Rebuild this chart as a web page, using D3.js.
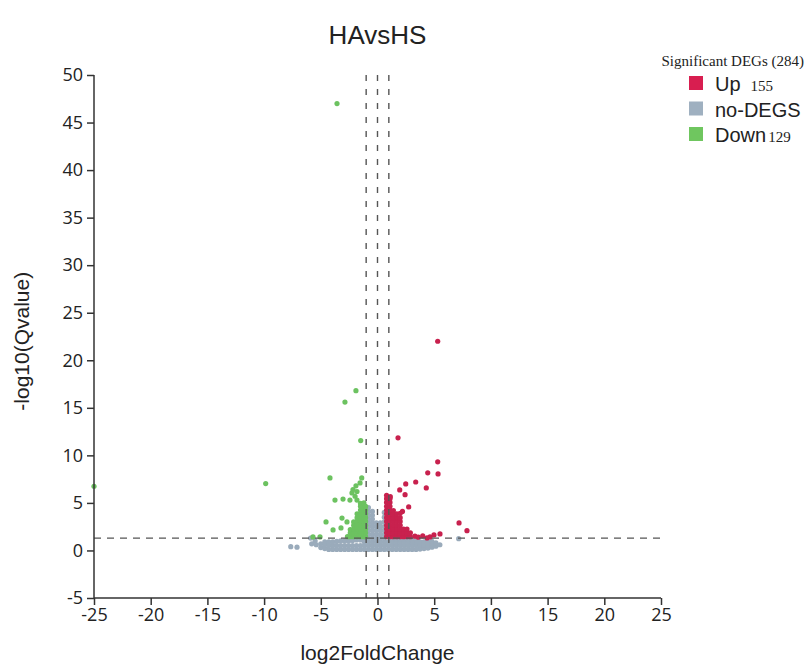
<!DOCTYPE html>
<html>
<head>
<meta charset="utf-8">
<script src="https://cdn.jsdelivr.net/npm/d3@7"></script>
<style>
  body { margin: 0; background: #fff; }
  .tick text { font-family: "Open Sans", sans-serif; font-size: 18px; fill: #222; }
</style>
</head>
<body>
<div id="chart"></div>
<script>
// ---- data ----
const chartTitle = 'HAvsHS';
const xTicks = [-25, -20, -15, -10, -5, 0, 5, 10, 15, 20, 25];
const yTicks = [-5, 0, 5, 10, 15, 20, 25, 30, 35, 40, 45, 50];
const foldCutoffs = [-1, 0, 1];
const qCutoff = 1.3;

const legendItems = ['Up', 'no-DEGS', 'Down'];
const legendCounts = ['155', '', '129'];
const legendTitle = 'Significant DEGs (284)';

// isolated up-regulated genes [log2FC, -log10(q)]
const upPoints = [
    [5.31, 22.0], [1.81, 11.84], [5.31, 9.32], [4.43, 8.16], [5.34, 8.05],
    [3.37, 7.2], [2.49, 7.0], [1.96, 6.37], [2.43, 5.87], [4.3, 6.58],
    [1.13, 5.66], [2.75, 4.58], [7.19, 2.9], [7.89, 2.08], [3.99, 1.53],
    [4.63, 1.42], [4.98, 1.63], [5.51, 1.74], [4.37, 1.32], [3.3, 1.5],
    [3.6, 1.4], [2.2, 4.1]
];
// crowded up-regulated genes, by column: [log2FC, [-log10(q) ...]]
const upDense = [
    [0.8, [1.45, 1.85, 2.25, 2.65, 3.05, 3.45, 3.85, 4.25, 4.65, 5.05, 5.45, 5.8]],
    [1.1, [1.45, 1.85, 2.25, 2.65, 3.05, 3.45, 3.85, 4.25, 4.65, 5.05, 5.45]],
    [1.4, [1.45, 1.85, 2.25, 2.65, 3.05, 3.45, 3.85, 4.2]],
    [1.7, [1.45, 1.85, 2.25, 2.65, 3.05, 3.45, 3.85]],
    [2.0, [1.45, 1.85, 2.25, 2.65, 3.05, 3.45, 3.9]],
    [2.3, [1.45, 1.85, 2.25]],
    [2.6, [1.45, 1.85, 2.25]],
    [2.9, [1.45, 1.85]]
];

// isolated down-regulated genes
const downPoints = [
    [-3.57, 47.0], [-1.9, 16.8], [-2.87, 15.6], [-1.48, 11.56], [-25, 6.75],
    [-9.86, 7.03], [-4.19, 7.63], [-1.39, 7.63], [-1.54, 7.1], [-1.9, 6.8],
    [-2.16, 6.4], [-1.81, 6.2], [-2.25, 6.05], [-1.98, 5.7], [-3.75, 5.3],
    [-3.04, 5.4], [-2.43, 5.3], [-1.81, 5.3], [-4.54, 3.0], [-3.13, 3.4],
    [-2.69, 3.0], [-3.92, 2.16], [-3.22, 2.37], [-5.07, 1.42], [-5.69, 1.42]
];
const downDense = [
    [-2.65, [1.45]],
    [-2.4, [1.45, 1.85, 2.2]],
    [-2.1, [1.45, 1.85, 2.25, 2.65, 3.0]],
    [-1.8, [1.45, 1.85, 2.25, 2.65, 3.05, 3.45, 3.85]],
    [-1.5, [1.45, 1.85, 2.25, 2.65, 3.05, 3.45, 3.85, 4.25, 4.65, 4.95]],
    [-1.2, [1.45, 1.85, 2.25, 2.65, 3.05, 3.45, 3.85, 4.25, 4.65, 5.0]],
    [-1.05, [1.45, 1.85, 2.25, 2.65, 3.05, 3.45, 3.85, 4.25, 4.65]]
];

// non significant genes
const grayPoints = [
    [-7.65, 0.4], [-7.1, 0.35], [-5.8, 0.7], [-5.5, 1.0], [-5.9, 1.3],
    [-5.4, 0.6], [7.16, 1.24]
];
const grayDense = [
    [-5.0, [0.3, 0.7]],
    [-4.65, [0.2, 0.6, 0.9]],
    [-4.3, [0.1, 0.5, 0.9]],
    [-3.95, [0.1, 0.5, 0.9]],
    [-3.6, [0.1, 0.5, 0.95]],
    [-3.25, [0.1, 0.5, 1.0]],
    [-2.9, [0.1, 0.5, 1.0]],
    [-2.55, [0.1, 0.5, 1.0]],
    [-2.2, [0.1, 0.5, 1.05]],
    [-1.85, [0.1, 0.5, 1.1]],
    [-1.5, [0.1, 0.5, 1.1]],
    [-1.15, [0.1, 0.5, 0.9, 1.3]],
    [-0.8, [0.1, 0.5, 0.9, 1.3, 1.7, 2.1, 2.5, 2.9, 3.3, 3.7, 4.1, 4.5]],
    [-0.45, [0.1, 0.5, 0.9, 1.3, 1.7, 2.1, 2.5, 2.9, 3.3, 3.7, 4.1]],
    [-0.1, [0.1, 0.5, 0.9, 1.3, 1.7, 2.1, 2.5, 2.9]],
    [0.25, [0.1, 0.5, 0.9, 1.3, 1.7, 2.1, 2.5, 2.9]],
    [0.6, [0.1, 0.5, 0.9, 1.3, 1.7, 2.1, 2.5, 3.0, 3.5, 4.0]],
    [0.95, [0.1, 0.5, 0.9]],
    [1.3, [0.1, 0.5, 0.9, 1.2]],
    [1.65, [0.1, 0.5, 0.9, 1.2]],
    [2.0, [0.1, 0.5, 0.9, 1.2]],
    [2.35, [0.1, 0.5, 0.9, 1.2]],
    [2.7, [0.1, 0.5, 0.9, 1.15]],
    [3.05, [0.1, 0.5, 0.9, 1.1]],
    [3.4, [0.1, 0.5, 0.9, 1.1]],
    [3.75, [0.15, 0.5, 0.9]],
    [4.1, [0.2, 0.55, 0.9]],
    [4.45, [0.25, 0.6, 0.9]],
    [4.8, [0.35, 0.7, 0.95]],
    [5.15, [0.45, 0.8]],
    [5.5, [0.6]]
];

const colors = { up: '#c8214e', none: '#9aabbb', down: '#6cc260' };
const legendColors = ['#d81e50', '#9fb0c0', '#6fc65f'];

// ---- layout ----
const width = 806, height = 666;
const margin = { top: 75, right: 145, bottom: 68, left: 94 };
const innerW = width - margin.left - margin.right;
const innerH = height - margin.top - margin.bottom;
const radius = 2.6;

function expand(cols) {
    const out = [];
    cols.forEach(c => c[1].forEach(y => out.push([c[0], y])));
    return out;
}

const svg = d3.select('#chart').append('svg')
    .attr('width', width)
    .attr('height', height);

const chart = svg.append('g')
    .attr('transform', `translate(${margin.left}, ${margin.top})`);

const x = d3.scaleLinear().domain([-25, 25]).range([0, innerW]);
const y = d3.scaleLinear().domain([-5, 50]).range([innerH, 0]);

// points
const groups = [
    { data: grayPoints.concat(expand(grayDense)), color: colors.none },
    { data: downPoints.concat(expand(downDense)), color: colors.down },
    { data: upPoints.concat(expand(upDense)), color: colors.up }
];
groups.forEach(g => {
    chart.append('g')
        .selectAll('circle')
        .data(g.data)
        .join('circle')
        .attr('cx', d => x(d[0]))
        .attr('cy', d => y(d[1]))
        .attr('r', radius)
        .attr('fill', g.color);
});

// threshold lines
chart.selectAll('.vline')
    .data(foldCutoffs)
    .join('line')
    .attr('class', 'vline')
    .attr('x1', d => x(d)).attr('x2', d => x(d))
    .attr('y1', y(50)).attr('y2', y(-5))
    .attr('stroke', '#555')
    .attr('stroke-width', 1.4)
    .attr('stroke-dasharray', '6,8');

chart.append('line')
    .attr('x1', x(-25)).attr('x2', x(25))
    .attr('y1', y(qCutoff)).attr('y2', y(qCutoff))
    .attr('stroke', '#555')
    .attr('stroke-width', 1.4)
    .attr('stroke-dasharray', '7,6');

// axes (plain hyphen for negatives, like the original)
const fmt = d => String(d);
const xAxis = chart.append('g')
    .attr('transform', `translate(0, ${innerH})`)
    .call(d3.axisBottom(x).tickValues(xTicks).tickFormat(fmt).tickSize(7).tickPadding(3));
const yAxis = chart.append('g')
    .call(d3.axisLeft(y).tickValues(yTicks).tickFormat(fmt).tickSize(7).tickPadding(4));
[xAxis, yAxis].forEach(a => {
    a.selectAll('path, line').attr('stroke', '#333').attr('stroke-width', 1.5);
    a.select('.domain').attr('d', a === xAxis ? `M0,0H${innerW}` : `M0,0V${innerH}`);
});

// titles
svg.append('text')
    .attr('x', margin.left + x(0))
    .attr('y', 44)
    .attr('text-anchor', 'middle')
    .attr('font-family', 'Liberation Sans, Arial, sans-serif')
    .attr('font-size', 26)
    .attr('fill', '#222')
    .text(chartTitle);

svg.append('text')
    .attr('x', margin.left + x(0))
    .attr('y', 660)
    .attr('text-anchor', 'middle')
    .attr('font-family', 'Liberation Sans, Arial, sans-serif')
    .attr('font-size', 21)
    .attr('fill', '#222')
    .text('log2FoldChange');

svg.append('text')
    .attr('transform', `translate(29, ${margin.top + y(22)}) rotate(-90)`)
    .attr('text-anchor', 'middle')
    .attr('font-family', 'Liberation Sans, Arial, sans-serif')
    .attr('font-size', 21)
    .attr('fill', '#222')
    .text('-log10(Qvalue)');

// legend
const legend = svg.append('g').attr('transform', 'translate(689, 0)');
legend.append('text')
    .attr('x', 115).attr('y', 66)
    .attr('text-anchor', 'end')
    .attr('font-family', 'Liberation Serif, Times New Roman, serif')
    .attr('font-size', 15)
    .attr('fill', '#222')
    .text(legendTitle);

const item = legend.selectAll('.item')
    .data(legendItems)
    .join('g')
    .attr('class', 'item')
    .attr('transform', (d, i) => `translate(0, ${76 + i * 25.5})`);
item.append('rect')
    .attr('width', 14).attr('height', 14)
    .attr('fill', (d, i) => legendColors[i]);
item.append('text')
    .attr('x', 26).attr('y', 15)
    .attr('font-family', 'Liberation Sans, Arial, sans-serif')
    .attr('font-size', 20)
    .attr('fill', '#222')
    .text(d => d)
  .append('tspan')
    .attr('dx', (d, i) => i === 0 ? 10 : 2)
    .attr('font-family', 'Liberation Serif, Times New Roman, serif')
    .attr('font-size', 15)
    .text((d, i) => legendCounts[i]);
</script>
</body>
</html>
